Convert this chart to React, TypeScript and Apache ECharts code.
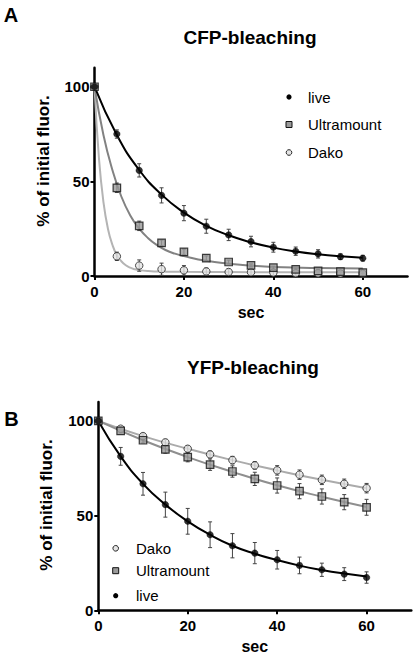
import React, { useEffect, useRef } from "react";
import * as echarts from "echarts";

// ---- data ----
const times = [0, 5, 10, 15, 20, 25, 30, 35, 40, 45, 50, 55, 60];
const xTicks = [0, 20, 40, 60];
const yTicks = [0, 50, 100];

// Panel A: CFP-bleaching
const cfpLive = [100, 75, 55.8, 42.6, 33.2, 26.3, 21.7, 18.2, 15.2, 13.1, 11.7, 10.2, 9.4];
const cfpLiveErr = [0, 2.2, 3.5, 4, 4, 3.7, 3, 2.8, 2.6, 2.2, 2.2, 1.5, 1.5];
const cfpUltra = [100, 46.6, 26.5, 17.5, 12.7, 9.4, 7.4, 5.6, 4.4, 3.5, 2.7, 2.3, 1.8];
const cfpUltraErr = [0, 2.5, 2.5, 1.5, 1.5, 1.2, 1, 0.8, 0.8, 0.6, 0.5, 0.5, 0.5];
const cfpDako = [100, 10.4, 5.5, 3.6, 3.0, 2.4, 2.1, 2.0, 1.8, 1.5, 1.4, 1.3, 1.2];
const cfpDakoErr = [0, 2.2, 3, 3.2, 2.5, 1.8, 1.5, 1.5, 1.5, 1, 1, 1, 1];

// Fitted curves of panel A
const cfpLiveFitT = [0, 5, 10, 15, 20, 25, 30, 35, 40, 45, 50, 55, 60];
const cfpLiveFitV = [100, 74.5, 56, 43, 33.5, 26.5, 21.5, 17.8, 15, 13, 11.5, 10.4, 9.6];
const cfpUltraFitT = [0, 2, 4, 6, 8, 10, 12, 14, 16, 18, 20, 25, 30, 35, 40, 50, 60];
const cfpUltraFitV = [100, 74.5, 56, 42, 32, 25, 20, 16.3, 13.6, 11.8, 10.5, 8, 6.5, 5.5, 4.8, 4.2, 4];
const cfpDakoFitT = [0, 1, 2, 3, 4, 5, 6, 7, 8, 9, 10, 12, 14, 16, 20, 30, 40, 50, 60];
const cfpDakoFitV = [100, 62, 39, 25, 16.5, 11, 7.8, 5.7, 4.4, 3.6, 3.1, 2.6, 2.4, 2.3, 2.2, 2.1, 2, 2, 2];

// Panel B: YFP-bleaching
const yfpDako = [100, 95.9, 92.0, 88.7, 85.3, 82.3, 79.3, 76.5, 73.9, 71.6, 68.9, 66.8, 64.5];
const yfpDakoErr = [0, 1, 1.2, 1.5, 1.5, 1.8, 2, 2, 2.5, 2.5, 2.5, 2.5, 2.5];
const yfpUltra = [100, 94.7, 89.8, 85.0, 80.9, 76.9, 73.3, 69.4, 65.9, 62.9, 60.1, 57.1, 54.4];
const yfpUltraErr = [0, 1, 1.5, 2, 2.5, 3, 3, 3.5, 4, 4, 4, 4, 4.2];
const yfpLive = [100, 81.3, 66.8, 55.8, 47.0, 39.9, 34.1, 30.2, 26.7, 23.7, 21.4, 19.1, 17.3];
const yfpLiveErr = [0, 4.7, 6, 6.6, 6.8, 6.8, 6.4, 5.6, 4.9, 4.4, 3.5, 3.4, 3];

const yfpDakoFitT = [0, 10, 20, 30, 40, 50, 60];
const yfpDakoFitV = [100, 92.0, 85.3, 79.3, 73.9, 68.9, 64.5];
const yfpUltraFitT = [0, 10, 20, 30, 40, 50, 60];
const yfpUltraFitV = [100, 89.8, 80.9, 73.1, 66.0, 60.0, 54.6];
const yfpLiveFitT = [0, 5, 10, 15, 20, 25, 30, 35, 40, 45, 50, 55, 60];
const yfpLiveFitV = [100, 81.3, 66.8, 55.8, 47, 39.9, 34.1, 29.9, 26.5, 23.6, 21.3, 19.4, 17.8];

const FONT = "'Liberation Sans', Arial, Helvetica, sans-serif";

const zip = (a: number[], b: number[]) => a.map((v, i) => [v, b[i]]);

function fitLine(idx: number, t: number[], v: number[], color: string) {
  return {
    type: "line",
    xAxisIndex: idx,
    yAxisIndex: idx,
    data: zip(t, v),
    smooth: 0.5,
    showSymbol: false,
    symbol: "none",
    silent: true,
    z: 2,
    lineStyle: { color, width: 2 },
  };
}

function errorBars(idx: number, vals: number[], err: number[]) {
  const data: number[][] = [];
  times.forEach((t, i) => {
    if (err[i] > 0) data.push([t, vals[i] - err[i], vals[i] + err[i]]);
  });
  return {
    type: "custom",
    xAxisIndex: idx,
    yAxisIndex: idx,
    silent: true,
    z: 3,
    encode: { x: 0, y: [1, 2] },
    data,
    renderItem: (params: any, api: any) => {
      const x = api.value(0);
      const p1 = api.coord([x, api.value(2)]);
      const p2 = api.coord([x, api.value(1)]);
      const w = 2;
      const style = { stroke: "#444", lineWidth: 1 };
      return {
        type: "group",
        children: [
          { type: "line", shape: { x1: p1[0], y1: p1[1], x2: p2[0], y2: p2[1] }, style },
          { type: "line", shape: { x1: p1[0] - w, y1: p1[1], x2: p1[0] + w, y2: p1[1] }, style },
          { type: "line", shape: { x1: p2[0] - w, y1: p2[1], x2: p2[0] + w, y2: p2[1] }, style },
        ],
      };
    },
  };
}

function markers(idx: number, name: string, vals: number[], kind: "live" | "ultra" | "dako") {
  const base: any = {
    type: "scatter",
    name,
    xAxisIndex: idx,
    yAxisIndex: idx,
    data: zip(times, vals),
    z: 4,
    silent: true,
  };
  if (kind === "live") {
    base.symbol = "circle";
    base.symbolSize = 6.5;
    base.itemStyle = { color: "#000", borderColor: "#000", borderWidth: 0.5 };
  } else if (kind === "ultra") {
    base.symbol = "rect";
    base.symbolSize = 7.5;
    base.itemStyle = { color: "#9a9a9a", borderColor: "#111", borderWidth: 1.2 };
  } else {
    base.symbol = "circle";
    base.symbolSize = 7.5;
    base.itemStyle = { color: "#e4e4e4", borderColor: "#222", borderWidth: 1 };
  }
  return base;
}

function legendItems(x: number, ys: number[], kinds: string[], labels: string[], textX: number) {
  const out: any[] = [];
  kinds.forEach((k, i) => {
    const y = ys[i];
    if (k === "live") {
      out.push({ type: "circle", shape: { cx: x, cy: y, r: 2.6 }, style: { fill: "#000" } });
    } else if (k === "ultra") {
      out.push({ type: "rect", shape: { x: x - 3, y: y - 3, width: 6, height: 6 }, style: { fill: "#9a9a9a", stroke: "#111", lineWidth: 1 } });
    } else {
      out.push({ type: "circle", shape: { cx: x, cy: y, r: 2.8 }, style: { fill: "#e4e4e4", stroke: "#222", lineWidth: 1 } });
    }
    out.push({
      type: "text",
      x: textX,
      y,
      style: { text: labels[i], font: `15px ${FONT}`, fill: "#000", align: "left", verticalAlign: "middle" },
    });
  });
  return out;
}

function xAxisDef(idx: number) {
  return {
    type: "value",
    gridIndex: idx,
    min: 0,
    max: 70,
    interval: 10,
    name: "sec",
    nameLocation: "middle",
    nameGap: 28,
    nameTextStyle: { fontFamily: FONT, fontWeight: "bold", fontSize: 16, color: "#000" },
    axisLine: { show: true, onZero: false, lineStyle: { color: "#000", width: 2.5 } },
    axisTick: { show: true, customValues: xTicks, length: 4, lineStyle: { color: "#000", width: 2 } },
    axisLabel: { customValues: xTicks, fontFamily: FONT, fontWeight: "bold", fontSize: 15, color: "#000", margin: 8 },
    splitLine: { show: false },
  };
}

function yAxisDef(idx: number) {
  return {
    type: "value",
    gridIndex: idx,
    min: 0,
    max: 110,
    interval: 10,
    axisLine: { show: true, onZero: false, lineStyle: { color: "#000", width: 2.5 } },
    axisTick: { show: true, customValues: yTicks, length: 4, lineStyle: { color: "#000", width: 2 } },
    axisLabel: { customValues: yTicks, fontFamily: FONT, fontWeight: "bold", fontSize: 15, color: "#000", margin: 5 },
    splitLine: { show: false },
  };
}

export default function App() {
  const ref = useRef<HTMLDivElement>(null);
  useEffect(() => {
    if (!ref.current) return;
    const chart = echarts.init(ref.current, undefined, { renderer: "svg" });
    const option: any = {
      animation: false,
      backgroundColor: "#fff",
      textStyle: { fontFamily: FONT },
      grid: [
        { left: 94.5, top: 67.8, width: 313, height: 208.2, containLabel: false },
        { left: 98.3, top: 402, width: 313, height: 208.3, containLabel: false },
      ],
      xAxis: [xAxisDef(0), xAxisDef(1)],
      yAxis: [yAxisDef(0), yAxisDef(1)],
      series: [
        // Panel A
        fitLine(0, cfpDakoFitT, cfpDakoFitV, "#b4b4b4"),
        fitLine(0, cfpUltraFitT, cfpUltraFitV, "#828282"),
        fitLine(0, cfpLiveFitT, cfpLiveFitV, "#000"),
        errorBars(0, cfpDako, cfpDakoErr),
        errorBars(0, cfpUltra, cfpUltraErr),
        errorBars(0, cfpLive, cfpLiveErr),
        markers(0, "Dako", cfpDako, "dako"),
        markers(0, "Ultramount", cfpUltra, "ultra"),
        markers(0, "live", cfpLive, "live"),
        // Panel B
        fitLine(1, yfpDakoFitT, yfpDakoFitV, "#ababab"),
        fitLine(1, yfpUltraFitT, yfpUltraFitV, "#8f8f8f"),
        fitLine(1, yfpLiveFitT, yfpLiveFitV, "#000"),
        errorBars(1, yfpDako, yfpDakoErr),
        errorBars(1, yfpUltra, yfpUltraErr),
        errorBars(1, yfpLive, yfpLiveErr),
        markers(1, "Dako", yfpDako, "dako"),
        markers(1, "Ultramount", yfpUltra, "ultra"),
        markers(1, "live", yfpLive, "live"),
      ],
      graphic: [
        { type: "text", x: 11, y: 14.5, style: { text: "A", font: `bold 20px ${FONT}`, fill: "#000", align: "center", verticalAlign: "middle" } },
        { type: "text", x: 11.5, y: 419, style: { text: "B", font: `bold 20px ${FONT}`, fill: "#000", align: "center", verticalAlign: "middle" } },
        { type: "text", x: 250, y: 37, style: { text: "CFP-bleaching", font: `bold 19px ${FONT}`, fill: "#000", align: "center", verticalAlign: "middle" } },
        { type: "text", x: 253, y: 367, style: { text: "YFP-bleaching", font: `bold 19px ${FONT}`, fill: "#000", align: "center", verticalAlign: "middle" } },
        { type: "text", x: 43, y: 161, rotation: Math.PI / 2, style: { text: "% of initial fluor.", font: `bold 17px ${FONT}`, fill: "#000", align: "center", verticalAlign: "middle" } },
        { type: "text", x: 46.5, y: 505, rotation: Math.PI / 2, style: { text: "% of initial fluor.", font: `bold 17px ${FONT}`, fill: "#000", align: "center", verticalAlign: "middle" } },
        ...legendItems(289, [97, 124.5, 152.5], ["live", "ultra", "dako"], ["live", "Ultramount", "Dako"], 308),
        ...legendItems(115.7, [548.3, 570.7, 595.7], ["dako", "ultra", "live"], ["Dako", "Ultramount", "live"], 136),
      ],
    };
    chart.setOption(option);
    return () => chart.dispose();
  }, []);
  return (
    <div
      ref={ref}
      style={{ position: "fixed", left: 0, top: 0, width: 416, height: 660, background: "#fff" }}
    />
  );
}
